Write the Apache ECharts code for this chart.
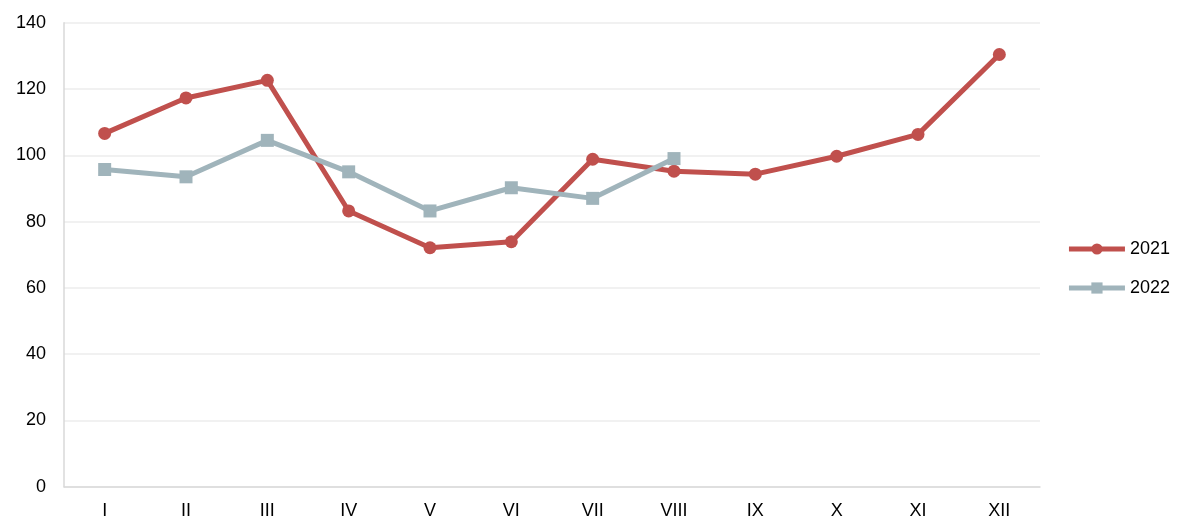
<!DOCTYPE html>
<html>
<head>
<meta charset="utf-8">
<script src="https://cdn.jsdelivr.net/npm/echarts@6/dist/echarts.min.js"></script>
<style>
  html, body { margin: 0; padding: 0; background: #fff; }
  #main { width: 1177px; height: 520px; }
</style>
</head>
<body>
<div id="main"></div>
<script>
var myChart = echarts.init(document.getElementById('main'));

// months (roman numerals)
var months = ['I', 'II', 'III', 'IV', 'V', 'VI', 'VII', 'VIII', 'IX', 'X', 'XI', 'XII'];

var data2021 = [106.6, 117.3, 122.6, 83.2, 72.1, 73.9, 98.8, 95.2, 94.3, 99.7, 106.3, 130.4];
var data2022 = [95.7, 93.5, 104.5, 95.0, 83.2, 90.2, 87.0, 99.0];

var font = 'Liberation Sans, Arial, sans-serif';

option = {
    animation: false,
    textStyle: { fontFamily: font },
    grid: {
        left: 64,
        right: 137,
        top: 22.7,
        bottom: 33.3
    },
    legend: {
        orient: 'vertical',
        right: 2,
        top: 235,
        itemWidth: 56,
        itemHeight: 14,
        itemGap: 21,
        lineStyle: { width: 5 },
        textStyle: { color: '#000', fontSize: 18, fontFamily: font },
        data: ['2021', '2022']
    },
    xAxis: {
        type: 'category',
        data: months,
        boundaryGap: true,
        axisLine: { lineStyle: { color: '#d9d9d9', width: 1.5 } },
        axisTick: { show: false },
        axisLabel: { color: '#000', fontSize: 18, margin: 15, fontFamily: font }
    },
    yAxis: {
        type: 'value',
        min: 0,
        max: 140,
        interval: 20,
        axisLine: { show: true, lineStyle: { color: '#d9d9d9', width: 1.5 } },
        axisTick: { show: false },
        splitLine: { lineStyle: { color: '#ececec', width: 1.5 } },
        axisLabel: { color: '#000', fontSize: 18, margin: 18, fontFamily: font }
    },
    series: [{
        name: '2021',
        type: 'line',
        data: data2021,
        symbol: 'circle',
        symbolSize: 13,
        lineStyle: { color: '#c0504d', width: 5 },
        itemStyle: { color: '#c0504d' }
    }, {
        name: '2022',
        type: 'line',
        data: data2022,
        symbol: 'rect',
        symbolSize: 13,
        lineStyle: { color: '#a0b4bb', width: 5 },
        itemStyle: { color: '#a0b4bb' }
    }]
};

myChart.setOption(option);
</script>
</body>
</html>
